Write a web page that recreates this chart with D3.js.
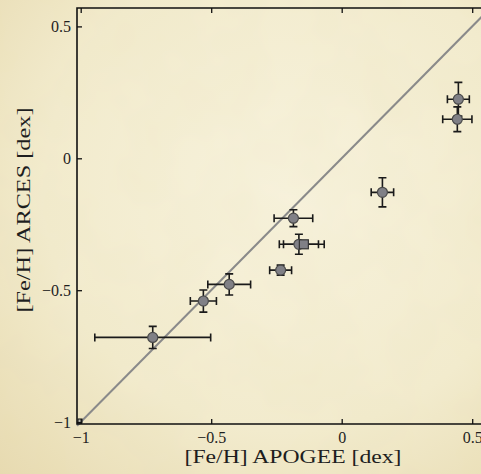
<!DOCTYPE html>
<html>
<head>
<meta charset="utf-8">
<script src="https://cdn.jsdelivr.net/npm/d3@7"></script>
<style>
  html, body { margin: 0; padding: 0; background: #efe6c4; }
  svg { display: block; }
</style>
</head>
<body>
<script>
// values: APOGEE [Fe/H] vs ARCES [Fe/H]
const apogee  = [-0.724, -0.530, -0.431, -0.234, -0.185, -0.164, -0.145, 0.156, 0.447, 0.443];
const arces   = [-0.679, -0.541, -0.478, -0.424, -0.227, -0.326, -0.326, -0.129, 0.224, 0.148];
const apogeeErr = [0.222, 0.050, 0.082, 0.042, 0.074, 0.075, 0.078, 0.043, 0.042, 0.056];
const arcesErr  = [0.042, 0.042, 0.040, 0.019, 0.032, 0.038, 0.012, 0.055, 0.064, 0.047];
const markers = ["circle", "circle", "circle", "circle", "circle", "circle", "square", "circle", "circle", "circle"];
const tickValues = [-1, -0.5, 0, 0.5];

const W = 481, H = 474;
const frameLeft = 77, frameTop = 8, frameBottom = 424;

const svg = d3.select("body").append("svg")
  .attr("width", W)
  .attr("height", H);

// parchment background
const defs = svg.append("defs");
const grad = defs.append("radialGradient").attr("id", "paper")
  .attr("cx", "0.6").attr("cy", "0.4").attr("r", "0.85");
grad.append("stop").attr("offset", "0%").attr("stop-color", "#f7f2dc");
grad.append("stop").attr("offset", "60%").attr("stop-color", "#f2ebcd");
grad.append("stop").attr("offset", "100%").attr("stop-color", "#e7dab0");

const noise = defs.append("filter").attr("id", "mottle");
noise.append("feTurbulence").attr("type", "fractalNoise")
  .attr("baseFrequency", "0.015").attr("numOctaves", 3).attr("seed", 4);
noise.append("feColorMatrix").attr("type", "matrix")
  .attr("values", "0 0 0 0 0.78  0 0 0 0 0.7  0 0 0 0 0.42  0 0 0 0.2 -0.06");

svg.append("rect").attr("width", W).attr("height", H).attr("fill", "url(#paper)");
svg.append("rect").attr("width", W).attr("height", H).attr("filter", "url(#mottle)");

// scales
const x = d3.scaleLinear().domain([-1, 0.5]).range([80.7, 472.2]);
const y = d3.scaleLinear().domain([-1, 0.5]).range([422.1, 26.4]);

const fmt = d => d === 0 ? "0" : d3.format("")(d);
const font = "Liberation Serif, DejaVu Serif, serif";

// one-to-one line
svg.append("line")
  .attr("x1", x(-1.014)).attr("y1", y(-1.014))
  .attr("x2", x(0.56)).attr("y2", y(0.56))
  .attr("stroke", "#8a8a8a")
  .attr("stroke-width", 2);

// small corner marker
svg.append("rect")
  .attr("x", frameLeft + 1).attr("y", frameBottom - 5)
  .attr("width", 4).attr("height", 4)
  .attr("fill", "#b8b8b0").attr("stroke", "#111").attr("stroke-width", 1);

// axes (ticks pointing inward)
const xAxis = svg.append("g")
  .attr("transform", `translate(0,${frameBottom})`)
  .call(d3.axisBottom(x).tickValues(tickValues).tickFormat(fmt).tickSizeInner(-5).tickSizeOuter(0).tickPadding(8));
const xTop = svg.append("g")
  .attr("transform", `translate(0,${frameTop})`)
  .call(d3.axisTop(x).tickValues(tickValues).tickFormat("").tickSizeInner(-5).tickSizeOuter(0));
const yAxis = svg.append("g")
  .attr("transform", `translate(${frameLeft},0)`)
  .call(d3.axisLeft(y).tickValues(tickValues).tickFormat(fmt).tickSizeInner(-5).tickSizeOuter(0).tickPadding(6));

[xAxis, xTop, yAxis].forEach(g => {
  g.attr("font-family", font).attr("font-size", 16);
  g.select(".domain").remove();
  g.selectAll(".tick line").attr("stroke", "#111").attr("stroke-width", 1.3);
  g.selectAll("text").attr("fill", "#1e1e1e");
});

// frame: left, top, bottom (right side is cut by the picture edge)
svg.append("path")
  .attr("d", `M${W + 5},${frameTop} H${frameLeft} V${frameBottom} H${W + 5}`)
  .attr("fill", "none")
  .attr("stroke", "#111")
  .attr("stroke-width", 1.6);

// error bars
const cap = 4;
const bars = svg.append("g").attr("stroke", "#1a1a1a").attr("stroke-width", 1.6).attr("fill", "none");
apogee.forEach((v, i) => {
  const cx = x(v), cy = y(arces[i]);
  const x0 = x(v - apogeeErr[i]), x1 = x(v + apogeeErr[i]);
  const y0 = y(arces[i] - arcesErr[i]), y1 = y(arces[i] + arcesErr[i]);
  bars.append("path").attr("d",
    `M${x0},${cy}H${x1}` +
    `M${x0},${cy - cap}V${cy + cap}M${x1},${cy - cap}V${cy + cap}` +
    `M${cx},${y0}V${y1}` +
    `M${cx - cap},${y0}H${cx + cap}M${cx - cap},${y1}H${cx + cap}`);
});

// markers
const pts = svg.append("g");
apogee.forEach((v, i) => {
  if (markers[i] === "square") {
    pts.append("rect")
      .attr("x", x(v) - 4.5).attr("y", y(arces[i]) - 4.5)
      .attr("width", 9).attr("height", 9)
      .attr("fill", "#808086").attr("stroke", "#333").attr("stroke-width", 1.2);
  } else {
    pts.append("circle")
      .attr("cx", x(v)).attr("cy", y(arces[i]))
      .attr("r", 5)
      .attr("fill", "#808086").attr("stroke", "#4a4a4a").attr("stroke-width", 1.2);
  }
});

// axis titles
svg.append("text")
  .attr("x", 293).attr("y", 463)
  .attr("text-anchor", "middle")
  .attr("textLength", 217).attr("lengthAdjust", "spacingAndGlyphs")
  .attr("font-family", font).attr("font-size", 18).attr("fill", "#1e1e1e")
  .text("[Fe/H] APOGEE [dex]");

svg.append("text")
  .attr("transform", "translate(30,210) rotate(-90)")
  .attr("text-anchor", "middle")
  .attr("textLength", 205).attr("lengthAdjust", "spacingAndGlyphs")
  .attr("font-family", font).attr("font-size", 18).attr("fill", "#1e1e1e")
  .text("[Fe/H] ARCES [dex]");
</script>
</body>
</html>
